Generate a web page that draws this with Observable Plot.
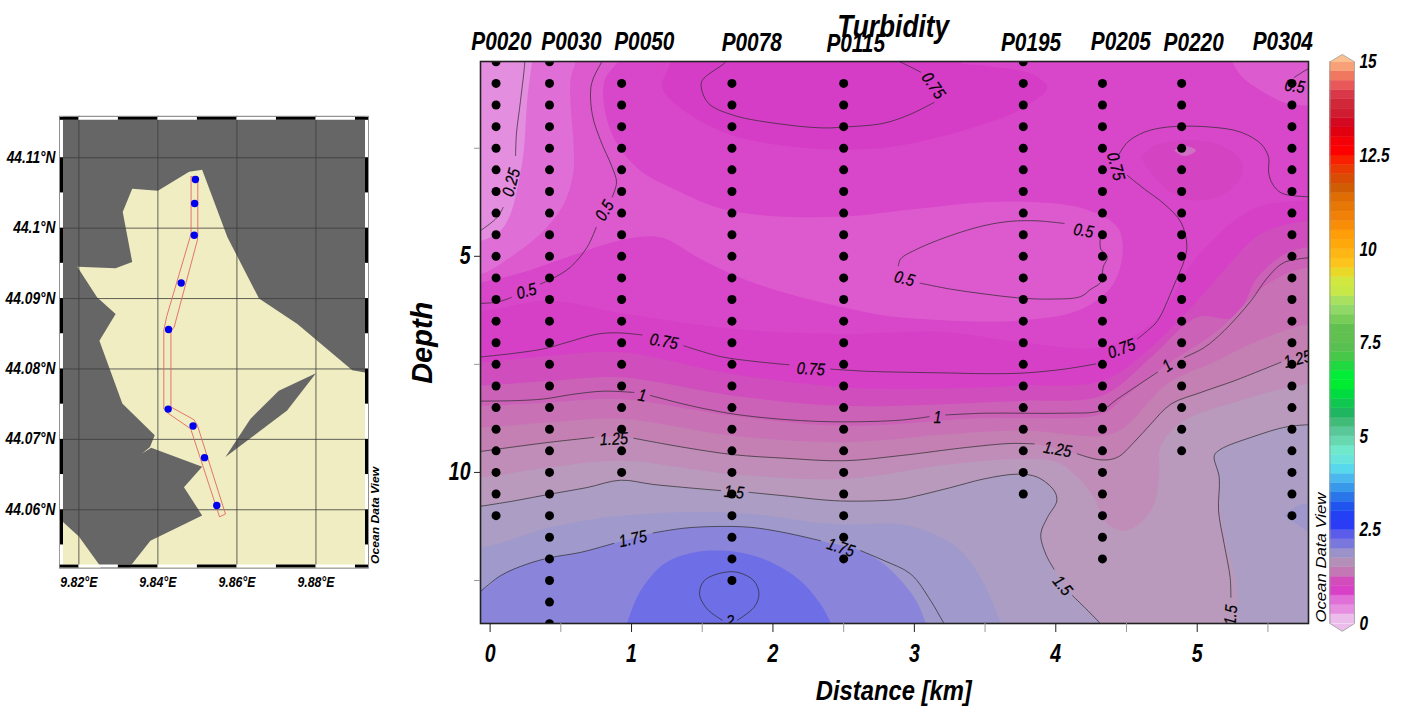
<!DOCTYPE html>
<html><head><meta charset="utf-8">
<script src="https://cdn.jsdelivr.net/npm/d3@7"></script>
<script src="https://cdn.jsdelivr.net/npm/@observablehq/plot@0.6"></script>
<style>
html,body{margin:0;padding:0;background:#fff}
#wrap{position:relative;width:1406px;height:708px;overflow:hidden}
#wrap svg{position:absolute;top:0;background:transparent;overflow:visible}
</style></head><body><div id="wrap"></div>
<script>
const FONT = "'Liberation Sans',Arial,sans-serif";

// ---------- section data ----------
const stationKm = [0.042,0.42,0.93,1.71,2.5,3.77,4.33,4.89,5.67];
const stationFirst = [0.5,0.5,1,1,1,0.5,1,1,1];
const stationLast = [11,13.5,10,12.5,12,10.5,12,9.5,11];
const sampleDepths = [0.5,1,1.5,2,2.5,3,3.5,4,4.5,5,5.5,6,6.5,7,7.5,8,8.5,9,9.5,10,10.5,11,11.5,12,12.5,13,13.5];
const stationNames = ["P0020","P0030","P0050","P0078","P0115","P0195","P0205","P0220","P0304"];
const nameKm = [0.08,0.575,1.09,1.85,2.585,3.825,4.46,4.975,5.605];
const nameDepth = [0.03,0.03,0.03,0.05,0.09,0.05,0.03,0.05,0.03];

// contour lines, as [km, depth]; a break is where a label sits
const c025a = [[0.245,0.3],[0.245,0.51],[0.215,1.4],[0.186,2.17],[0.18,2.67]];
const c025b = [[0.092,3.87],[0.05,4.1],[-0.061,4.39]];
const c05a = [[0.82,0.3],[0.788,0.51],[0.717,1.01],[0.722,1.71],[0.781,2.32],[0.863,2.94],[0.894,3.29],[0.863,3.63]];
const c05b = [[0.75,4.33],[0.686,4.79],[0.568,5.25],[0.45,5.5],[0.356,5.64]];
const c05c = [[0.151,5.95],[0.05,6.06],[-0.1,6.09]];
const c05islandA = [[4.059,4.24],[3.87,4.18],[3.682,4.19],[3.493,4.29],[3.257,4.52],[3.021,4.83],[2.903,5.06],[2.887,5.22]];
const c05islandB = [[3.04,5.62],[3.257,5.76],[3.493,5.87],[3.729,5.96],[3.965,5.99],[4.177,5.93],[4.248,5.76],[4.318,5.6],[4.335,5.25],[4.365,5.01],[4.318,4.83],[4.314,4.6]];
const c05corner = [[5.85,0.6],[5.788,0.66],[5.687,0.86]];
const c075topA = [[1.72,0.3],[1.665,0.51],[1.5,0.93],[1.495,1.13],[1.547,1.47],[1.724,1.74],[2.078,1.95],[2.361,2.03],[2.502,2.01],[2.785,1.92],[2.974,1.71],[3.139,1.44]];
const c075topB = [[3.045,0.74],[2.904,0.51],[2.78,0.35]];
const c075a = [[-0.1,7.34],[0.167,7.245],[0.38,7.14],[0.545,6.99],[0.757,6.8],[0.899,6.77],[1.075,6.82]];
const c075b = [[1.37,7.07],[1.63,7.32],[1.866,7.43],[2.113,7.51]];
const c075c = [[2.408,7.61],[2.667,7.66],[2.903,7.68],[3.257,7.7],[3.493,7.715],[3.776,7.7],[4.059,7.61],[4.283,7.49]];
const c075d = [[4.578,6.91],[4.649,6.72],[4.72,6.49],[4.85,5.56],[4.908,5.1],[4.927,4.75],[4.885,4.21],[4.767,3.79],[4.625,3.44],[4.507,3.13]];
const c075e = [[4.449,2.63],[4.507,2.36],[4.625,2.13],[4.79,2.01],[5.097,2.01],[5.31,2.13],[5.451,2.4],[5.505,2.71],[5.505,3.06],[5.533,3.33],[5.592,3.53],[5.687,3.6],[5.85,3.63]];
const c1a = [[-0.1,8.35],[0.167,8.34],[0.38,8.3],[0.592,8.19],[0.804,8.12],[1.017,8.15]];
const c1b = [[1.134,8.22],[1.37,8.42],[1.63,8.6],[1.866,8.71],[2.196,8.8],[2.502,8.83],[2.903,8.79],[3.104,8.71]];
const c1c = [[3.222,8.67],[3.493,8.63],[3.776,8.63],[4.059,8.63],[4.318,8.57],[4.436,8.3],[4.72,7.68]];
const c1d = [[4.908,7.34],[5.05,7.11],[5.191,6.72],[5.38,6.03],[5.498,5.49],[5.616,5.14],[5.85,5.02]];
const c125a = [[-0.1,9.53],[0.167,9.41],[0.427,9.3],[0.733,9.19]];
const c125b = [[1.017,9.21],[1.37,9.42],[1.724,9.59],[2.078,9.67],[2.502,9.73],[2.903,9.61],[3.375,9.42],[3.682,9.33],[3.847,9.34]];
const c125c = [[4.153,9.57],[4.318,9.71],[4.436,9.65],[4.554,9.3],[4.672,8.88],[4.814,8.42],[5.026,8.15],[5.262,7.88],[5.592,7.45]];
const c15a = [[-0.1,10.8],[0.167,10.66],[0.427,10.5],[0.686,10.35],[0.922,10.18],[1.158,10.28],[1.63,10.42]];
const c15b = [[1.83,10.46],[2.078,10.54],[2.479,10.66],[2.903,10.62],[3.021,10.54],[3.257,10.35],[3.493,10.15],[3.729,10.04],[3.87,10.11],[3.988,10.42],[4.007,10.66],[3.941,11.04],[3.894,11.43],[3.929,11.89],[3.988,12.24]];
const c15c = [[4.118,12.85],[4.307,13.47],[4.36,13.7]];
const c15right = [[5.85,8.89],[5.64,8.94],[5.38,9.19],[5.168,9.46],[5.121,9.61],[5.156,10.12],[5.151,10.89],[5.191,11.66],[5.233,12.43],[5.238,12.89]];
const c175a = [[-0.1,12.85],[0.073,12.39],[0.262,12.12],[0.427,11.97],[0.639,11.85],[0.875,11.64]];
const c175b = [[1.153,11.4],[1.37,11.29],[1.606,11.25],[1.842,11.27],[2.078,11.39],[2.337,11.58]];
const c175c = [[2.62,11.81],[2.785,12.04],[2.974,12.35],[3.116,12.97],[3.205,13.47],[3.25,13.7]];
const c2loop = [[1.642,13.42],[1.535,13.16],[1.481,12.82],[1.512,12.51],[1.63,12.33],[1.748,12.31],[1.866,12.51],[1.901,12.82],[1.866,13.12],[1.748,13.42]];

// contour labels
const labelText = ["0.25","0.5","0.5","0.75","0.5","0.5","0.75","0.5","0.75","0.75","0.75","1","1","1","1.25","1.25","1.25","1.5","1.5","1.5","1.75","1.75","2"];
const labelKm = [0.15,0.81,0.257,3.134,4.196,2.93,4.424,5.69,1.229,2.267,4.465,1.075,3.163,4.79,0.875,4.012,5.71,1.724,4.047,5.238,1.01,2.479,1.696];
const labelDepth = [3.29,3.94,5.81,1.05,4.41,5.52,2.92,1.07,6.97,7.61,7.14,8.22,8.73,7.53,9.23,9.47,7.38,10.46,12.62,13.3,11.54,11.74,13.46];
const labelAngle = [-75,-60,-15,55,10,15,75,8,10,3,-20,10,0,-35,-3,10,-15,5,50,-85,-12,18,0];

// filled bands, as [km, depth]
const bandTopDark = [[1.27,0.2],[1.276,0.51],[1.217,1.09],[1.37,1.63],[1.724,2.21],[2.196,2.48],[2.667,2.52],[3.021,2.36],[3.493,1.94],[3.776,1.55],[3.941,1.09],[3.826,0.78],[3.493,0.59],[3.328,0.51],[3.3,0.2]];
const bandLight3 = [[-0.4,0.1],[0.95,0.1],[0.899,0.51],[0.809,0.93],[0.816,1.71],[0.899,2.4],[1.064,3.02],[1.323,3.48],[1.606,3.87],[1.96,4.06],[2.502,4.08],[3.021,3.9],[3.493,3.75],[3.87,3.75],[4.2,3.9],[4.436,4.33],[4.472,4.95],[4.389,5.72],[4.153,6.26],[3.729,6.49],[3.257,6.49],[2.785,6.37],[2.55,6.22],[2.196,5.95],[1.818,5.56],[1.488,5.06],[1.229,4.58],[1.064,4.55],[0.828,4.71],[0.545,5.02],[0.191,5.41],[-0.061,5.6],[-0.4,5.8]];
const bandLight2 = [[-0.4,0.1],[0.63,0.1],[0.604,0.51],[0.568,0.93],[0.592,2.55],[0.587,3.09],[0.521,3.79],[0.356,4.48],[0.144,5.02],[-0.061,5.41],[-0.4,5.6]];
const bandLight1 = [[-0.4,0.1],[0.32,0.1],[0.297,0.51],[0.262,1.4],[0.238,2.55],[0.203,3.25],[0.144,4.02],[0.073,4.41],[-0.061,4.64],[-0.4,4.8]];
const bandCorner = [[5.2,0.1],[5.25,0.51],[5.31,0.82],[5.451,1.17],[5.64,1.47],[5.788,1.51],[6.3,1.5],[6.3,0.1]];
const patchOuter = [[4.601,2.71],[4.672,2.48],[4.885,2.32],[5.144,2.4],[5.31,2.79],[5.31,3.17],[5.144,3.63],[4.908,3.67],[4.719,3.25],[4.601,2.71]];
const patchInner = [[4.837,2.55],[4.908,2.45],[4.991,2.55],[4.908,2.68],[4.837,2.55]];
const edgeD = [[-0.061,6.26],[0.427,6.03],[0.899,6.3],[1.724,6.68],[2.502,6.8],[3.2,6.75],[3.776,7.0],[4.33,7.1],[4.7,6.5],[5.0,5.0],[5.4,3.9],[5.8,3.7]];
const edgeE = [[-0.061,7.45],[0.427,7.3],[0.922,7.22],[1.71,7.72],[2.502,8.03],[2.903,8.07],[3.493,8.03],[3.776,7.99],[4.33,7.88],[4.672,7.11],[5.0,6.03],[5.21,5.25],[5.45,4.48],[5.788,4.17]];
const edgeF = [[-0.061,7.99],[0.427,7.88],[0.922,7.8],[1.71,8.22],[2.502,8.46],[3.493,8.38],[3.776,8.34],[4.33,8.22],[4.672,7.34],[5.0,6.41],[5.262,6.41],[5.427,5.49],[5.616,4.95],[5.788,4.79]];
const edgeG = [[-0.061,8.46],[0.427,8.38],[0.922,8.3],[1.71,8.69],[2.502,8.92],[3.493,8.74],[3.776,8.74],[4.33,8.65],[4.484,8.26],[4.79,7.49],[5.144,6.72],[5.498,5.64],[5.788,5.25]];
const edgeH = [[-0.061,8.96],[0.427,8.84],[0.922,8.76],[1.71,9.15],[2.502,9.3],[3.257,9.11],[3.776,9.03],[4.33,9.15],[4.484,8.96],[4.79,7.95],[5.144,7.41],[5.38,7.03],[5.788,6.57]];
const edgeI = [[-0.061,9.51],[0.167,9.41],[0.427,9.3],[0.733,9.19],[1.017,9.21],[1.37,9.42],[1.724,9.59],[2.078,9.67],[2.502,9.73],[2.903,9.61],[3.375,9.42],[3.682,9.33],[3.847,9.34],[4.153,9.57],[4.318,9.71],[4.436,9.65],[4.554,9.3],[4.672,8.88],[4.814,8.42],[5.026,8.15],[5.262,7.88],[5.592,7.45],[5.788,7.3]];
const edgeJ = [[-0.061,10.11],[0.427,9.88],[0.922,9.73],[1.71,10.04],[2.502,10.15],[3.257,9.81],[3.776,9.69],[4.012,9.77],[4.153,10.11],[4.271,10.58],[4.366,11.2],[4.484,11.35],[4.601,11.16],[4.696,10.73],[4.731,10.04],[4.743,9.38],[4.908,8.8],[5.262,8.38],[5.788,7.95]];
const bandK = [[-0.4,10.9],[-0.061,10.77],[0.167,10.66],[0.427,10.5],[0.686,10.35],[0.922,10.18],[1.158,10.28],[1.63,10.42],[1.83,10.46],[2.078,10.54],[2.479,10.66],[2.903,10.62],[3.021,10.54],[3.257,10.35],[3.493,10.15],[3.729,10.04],[3.87,10.11],[3.988,10.42],[4.007,10.66],[3.941,11.04],[3.894,11.43],[3.929,11.89],[3.988,12.24],[4.118,12.85],[4.307,13.47],[4.45,14.2],[-0.4,14.2]];
const bandKRight = [[6.3,8.88],[5.64,8.94],[5.38,9.19],[5.168,9.46],[5.121,9.61],[5.156,10.12],[5.165,10.89],[5.21,11.66],[5.27,12.43],[5.3,13.47],[5.33,14.2],[6.3,14.2]];
const bandKBlob = [[5.616,11.0],[5.71,10.77],[5.788,10.73],[6.0,11.0],[5.788,11.35],[5.71,11.2],[5.616,11.0]];
const edgeL = [[-0.061,11.74],[0.427,11.27],[0.922,11.0],[1.724,10.93],[2.432,11.2],[2.903,11.2],[3.139,11.43],[3.328,11.81],[3.493,12.58],[3.61,13.47],[3.7,14.1]];
const edgeM = [[-0.061,12.72],[0.073,12.39],[0.262,12.12],[0.427,11.97],[0.639,11.85],[0.875,11.64],[1.153,11.4],[1.37,11.29],[1.606,11.25],[1.842,11.27],[2.078,11.39],[2.337,11.58],[2.62,11.81],[2.785,12.12],[2.998,12.89],[3.08,13.47],[3.15,14.1]];
const bandN = [[0.9,14.1],[0.969,13.47],[1.064,12.74],[1.229,12.12],[1.441,11.85],[1.724,11.83],[1.96,12.04],[2.196,12.51],[2.337,13.05],[2.408,13.47],[2.5,14.1]];

// ---------- colour bar ----------
const barStart = [0,0.25,0.5,0.75,1,1.25,1.5,1.75,2,2.25,2.5,2.75,3,3.25,3.5,3.75,4,4.25,4.5,4.75,5,5.25,5.5,5.75,6,6.25,6.5,6.75,7,7.25,7.5,7.75,8,8.25,8.5,8.75,9,9.25,9.5,9.75,10,10.25,10.5,10.75,11,11.25,11.5,11.75,12,12.25,12.5,12.75,13,13.25,13.5,13.75,14,14.25,14.5,14.75];
const barColor = ["#ecbcea","#e68ee0","#e070d8","#d940c8","#d24cbc","#c377b4","#b48fb8","#9a92c8","#7a78dc","#5c5cea","#2a3cf5","#2440f5","#1f55ee","#2a75ea","#3898ea","#4ab8ee","#58d8ec","#68e4dc","#70e8cc","#68d8b0","#58c898","#40bc78","#20b560","#10c850","#00dc40","#00ec30","#00ee38","#20d840","#48c848","#58c050","#60c050","#60c050","#78cc58","#90d868","#a8e060","#c8e848","#d0e840","#e8d828","#fcc41c","#feb614","#fea80c","#ff9e08","#f88e08","#f08008","#e87806","#e06c04","#d05c04","#d84c04","#e83a02","#f82000","#ff0000","#f40008","#e00010","#d40820","#d01c30","#d02838","#d83848","#e85858","#f07860","#f8a078"];
const barTicks = [0,2.5,5,7.5,10,12.5,15];

// ---------- map data, as [lon, lat] ----------
const landMain = [[9.8512,44.1083],[9.8479,44.108],[9.84,44.1053],[9.8335,44.1056],[9.8311,44.1023],[9.8335,44.0952],[9.8293,44.0943],[9.8196,44.0945],[9.8246,44.0902],[9.8293,44.0878],[9.8252,44.084],[9.831,44.0751],[9.8392,44.0706],[9.838,44.0689],[9.836,44.068],[9.8383,44.0688],[9.8512,44.0661],[9.8466,44.0632],[9.8512,44.0592],[9.8381,44.0556],[9.8333,44.0522],[9.829,44.045],[9.905,44.045],[9.905,44.079],[9.8934,44.0794],[9.8892,44.0798],[9.8753,44.0864],[9.8656,44.09],[9.8576,44.0987]];
const landCorner = [[9.81,44.0605],[9.8155,44.0585],[9.82,44.0562],[9.8253,44.0521],[9.828,44.048],[9.81,44.048]];
const lagoon = [[9.88,44.0794],[9.8706,44.0769],[9.8634,44.0729],[9.8571,44.0675],[9.8727,44.0741]];
const trackOutline = [[9.8484,44.1073],[9.8501,44.1073],[9.8501,44.099],[9.85,44.0983],[9.8441,44.0859],[9.8433,44.0855],[9.8433,44.0746],[9.8491,44.0728],[9.85,44.072],[9.8571,44.0594],[9.8556,44.059],[9.8483,44.0715],[9.8426,44.0737],[9.8415,44.0743],[9.8415,44.0855],[9.8422,44.0874],[9.8484,44.0992],[9.8484,44.1073]];
const trackLon = [9.8495,9.8493,9.8492,9.8459,9.8427,9.8426,9.8489,9.8518,9.8549];
const trackLat = [44.1069,44.1035,44.099,44.0922,44.0856,44.0743,44.0719,44.0674,44.0606];
const lonTicks = [9.82,9.84,9.86,9.88];
const latTicks = [44.06,44.07,44.08,44.09,44.1,44.11];
const lonBlack = [[9.8151,9.82],[9.83,9.84],[9.85,9.86],[9.87,9.88],[9.89,9.8933]];
const latBlack = [[44.055,44.06],[44.065,44.07],[44.075,44.08],[44.085,44.09],[44.095,44.1],[44.105,44.11]];

const X = d => d[0], Y = d => d[1];
const type = {fontFamily: FONT, fontStyle: "italic"};

// ---------- section plot ----------
const xMin = -0.068, xMax = 5.787, yTop = 0.493, yBot = 13.495;
const poly = (pts, fill, curve = "catmull-rom") => Plot.line(pts, {x: X, y: Y, fill, stroke: "none", curve, clip: true});
const below = (pts, fill) => poly([[-0.4, pts[0][1]], ...pts, [6.3, pts[pts.length - 1][1]], [6.3, 14.4], [-0.4, 14.4]], fill);
const contour = pts => Plot.line(pts, {x: X, y: Y, stroke: "#2a2a2a", strokeWidth: 0.7, curve: "catmull-rom", clip: true});
const contours = [c025a,c025b,c05a,c05b,c05c,c05islandA,c05islandB,c05corner,c075topA,c075topB,c075a,c075b,c075c,c075d,c075e,c1a,c1b,c1c,c1d,c125a,c125b,c125c,c15a,c15b,c15c,c15right,c175a,c175b,c175c,c2loop];
const samples = stationKm.flatMap((km, i) => sampleDepths.filter(d => d >= stationFirst[i] && d <= stationLast[i]).map(d => [km, d]));
const labels = labelText.map((t, i) => ({t, x: labelKm[i], y: labelDepth[i], a: labelAngle[i]}));
const names = stationNames.map((t, i) => ({t, x: nameKm[i], y: nameDepth[i]}));

const section = Plot.plot({
  width: 930, height: 708, marginLeft: 80, marginRight: 22, marginTop: 61, marginBottom: 85,
  style: {background: "transparent", overflow: "visible"},
  x: {domain: [xMin, xMax]}, y: {domain: [yBot, yTop]},
  marks: [
    Plot.frame({fill: "#d846ca", stroke: "none"}),
    poly(bandTopDark, "#d63dc6"),
    below(edgeD, "#d640c6"),
    poly(bandLight3, "#dc5ace"),
    poly(bandLight2, "#df6fd6"),
    poly(bandLight1, "#e48ee0"),
    poly(bandCorner, "#dc5ccf"),
    poly(patchOuter, "#d444c2"),
    poly(patchInner, "#d070c4"),
    below(edgeE, "#cf4dbc"),
    below(edgeF, "#cb62b7"),
    below(edgeG, "#c872b5"),
    below(edgeH, "#c47fb3"),
    below(edgeI, "#bf8db8"),
    below(edgeJ, "#b99abd"),
    poly(bandK, "#ab9dc3"),
    poly(bandKRight, "#ab9dc3"),
    poly(bandKBlob, "#9f97cb"),
    below(edgeL, "#a09acc"),
    below(edgeM, "#8a85db"),
    poly(bandN, "#6e6ee6"),
    ...contours.map(contour),
    Plot.dot(samples, {x: X, y: Y, r: 4.5, fill: "black", stroke: "none", clip: true}),
    Plot.text(labels, {x: "x", y: "y", text: "t", rotate: "a", fontSize: 17, fill: "black", stroke: "black", strokeWidth: 0.25, clip: true, ...type}),
    Plot.frame({stroke: "#222", strokeWidth: 1.6}),
    Plot.axisX({ticks: [0.5,1.5,2.5,3.5,4.5,5.5], tickSize: 9, tickFormat: () => "", stroke: "#999", label: null}),
    Plot.axisX({ticks: [0,1,2,3,4,5], tickSize: 9, tickPadding: 12, stroke: "#222", fill: "black", fontSize: 25, fontWeight: "bold", label: null, tickFormat: d => d, ...type}),
    Plot.axisY({ticks: [2.5,7.5,12.5], tickSize: 6, tickFormat: () => "", stroke: "#999", label: null}),
    Plot.axisY({ticks: [5,10], tickSize: 6, tickPadding: 4, stroke: "#222", fill: "black", fontSize: 25, fontWeight: "bold", label: null, tickFormat: d => d, ...type}),
    Plot.text(names, {x: "x", y: "y", text: "t", fontSize: 26, fontWeight: "bold", fill: "black", ...type}),
    Plot.text(["Turbidity"], {x: () => 2.85, y: () => -0.32, fontSize: 32, fontWeight: "bold", fill: "black", ...type}),
    Plot.text(["Depth"], {x: () => -0.479, y: () => 7.0, rotate: -90, fontSize: 29, fontWeight: "bold", fill: "black", ...type}),
    Plot.text(["Distance [km]"], {x: () => 2.854, y: () => 15.05, fontSize: 28, fontWeight: "bold", fill: "black", ...type}),
    Plot.text(["Ocean Data View"], {x: () => 5.876, y: () => 11.97, rotate: -90, fontSize: 14, fill: "black", fontFamily: FONT, fontStyle: "italic"})
  ]
});
section.style.left = "400px";

// ---------- colour bar plot ----------
const barRects = barStart.map((v, i) => ({v, c: barColor[i]}));
const bar = Plot.plot({
  width: 86, height: 708, marginLeft: 9.5, marginRight: 52, marginTop: 61.4, marginBottom: 85,
  style: {background: "transparent", overflow: "visible"},
  x: {domain: [0, 1], axis: null}, y: {domain: [0, 15]},
  marks: [
    Plot.rect(barRects, {x1: () => 0, x2: () => 1, y1: "v", y2: d => d.v + 0.25, fill: "c", stroke: "c", strokeWidth: 0.4, inset: 0}),
    Plot.line([[0,15],[0.5,15.2],[1,15]], {x: X, y: Y, fill: "#fcc090", stroke: "none"}),
    Plot.line([[0,0],[0.5,-0.21],[1,0]], {x: X, y: Y, fill: "#ecbcea", stroke: "none"}),
    Plot.line([[0,0],[0,15],[0.5,15.2],[1,15],[1,0],[0.5,-0.21],[0,0]], {x: X, y: Y, stroke: "#999", strokeWidth: 0.8}),
    Plot.axisY({anchor: "right", ticks: barTicks, tickSize: 0, tickPadding: 5, fill: "black", fontSize: 20, label: null, tickFormat: d => d, ...type, fontWeight: "bold"})
  ]
});
bar.style.left = "1320px";

// ---------- map plot ----------
const lonA = 9.8151, lonB = 9.8933, latA = 44.0517, latB = 44.1159;
const map = Plot.plot({
  width: 400, height: 708, marginLeft: 59, marginRight: 32, marginTop: 115.7, marginBottom: 140.3,
  style: {background: "transparent", overflow: "visible"},
  x: {domain: [lonA, lonB]}, y: {domain: [latA, latB]},
  marks: [
    Plot.frame({fill: "#666666", stroke: "none"}),
    Plot.line(landMain, {x: X, y: Y, fill: "#f0edc2", stroke: "none", clip: true}),
    Plot.line(landCorner, {x: X, y: Y, fill: "#f0edc2", stroke: "none", clip: true}),
    Plot.line(lagoon, {x: X, y: Y, fill: "#666666", stroke: "none", clip: true}),
    Plot.ruleX(lonTicks, {stroke: "#3c3c3c", strokeWidth: 0.8}),
    Plot.ruleY(latTicks, {stroke: "#3c3c3c", strokeWidth: 0.8}),
    Plot.line(trackOutline, {x: X, y: Y, stroke: "#e2685f", strokeWidth: 0.9}),
    Plot.dot(trackLon.map((x, i) => [x, trackLat[i]]), {x: X, y: Y, r: 3.7, fill: "#0000ee", stroke: "none"}),
    Plot.ruleY([latA + 0.0003, latB - 0.0003], {x1: lonA, x2: lonB, stroke: "white", strokeWidth: 3}),
    Plot.ruleX([lonA + 0.0005, lonB - 0.0005], {y1: latA, y2: latB, stroke: "white", strokeWidth: 3}),
    Plot.ruleY(lonBlack, {x1: X, x2: Y, y: () => latB - 0.0003, stroke: "black", strokeWidth: 3}),
    Plot.ruleY(lonBlack, {x1: X, x2: Y, y: () => latA + 0.0003, stroke: "black", strokeWidth: 3}),
    Plot.ruleX(latBlack, {y1: X, y2: Y, x: () => lonA + 0.0005, stroke: "black", strokeWidth: 3}),
    Plot.ruleX(latBlack, {y1: X, y2: Y, x: () => lonB - 0.0005, stroke: "black", strokeWidth: 3}),
    Plot.frame({stroke: "#888", strokeWidth: 0.8}),
    Plot.axisX({ticks: lonTicks, tickSize: 0, tickPadding: 8, fill: "black", fontSize: 15, fontWeight: "bold", label: null, tickFormat: d => d.toFixed(2) + "°E", ...type}),
    Plot.axisY({ticks: latTicks, tickSize: 0, tickPadding: 4, fill: "black", fontSize: 16, fontWeight: "bold", label: null, tickFormat: d => +d.toFixed(2) + "°N", ...type}),
    Plot.text(["Ocean Data View"], {x: () => 9.8951, y: () => 44.0592, rotate: -90, fontSize: 11, fill: "black", fontFamily: FONT, fontStyle: "italic", fontWeight: "bold"})
  ]
});
map.style.left = "0px";

const wrap = document.getElementById("wrap");
wrap.append(map, section, bar);

// the reference's type is squeezed sideways: fit each text to its read width
const squeezeBySize = {"17px": 0.85, "26px": 0.8, "32px": 0.82, "25px": 0.78, "20px": 0.77, "15px": 0.82, "16px": 0.86, "28px": 0.85};
wrap.querySelectorAll("text").forEach(t => {
  const s = t.textContent, len = t.getComputedTextLength();
  if (!len || s === "Depth") return;
  let target = len * (squeezeBySize[getComputedStyle(t).fontSize] || 1);
  if (s === "Ocean Data View") target = t.ownerSVGElement === section ? 130 : 97;
  t.setAttribute("textLength", target);
  t.setAttribute("lengthAdjust", "spacingAndGlyphs");
});
</script></body></html>
